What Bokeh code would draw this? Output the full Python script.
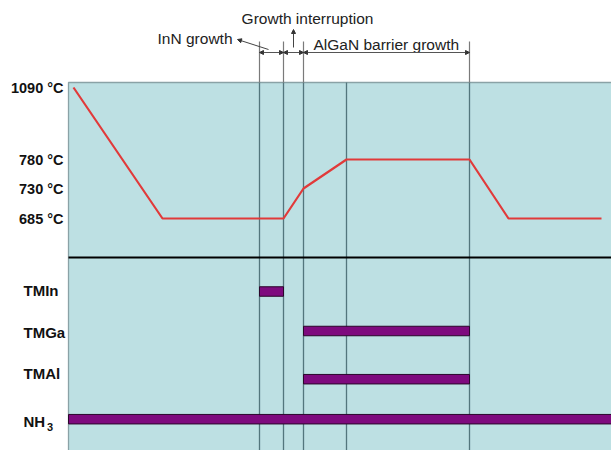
import re
import numpy as np
from bokeh.plotting import figure
from bokeh.models import Range1d, Arrow, NormalHead
from bokeh.core.properties import value
from bokeh.embed import file_html
from bokeh.resources import INLINE

# Growth sequence on a schematic time axis (arbitrary units)
profile_time = [0.5, 9.4, 19.1, 21.5, 23.5, 27.8, 40.1, 44.0, 53.3]
profile_temp = [1090, 685, 685, 685, 730, 780, 780, 685, 685]

# Temperature set points shown on the left
temp_levels = [685, 730, 780, 1090]
temp_labels = ["685 °C", "730 °C", "780 °C", "1090 °C"]

# Switching times of the precursor valves
gases = ["TMIn", "TMGa", "TMAl", "NH3"]
gas_on = [19.1, 23.5, 23.5, 0.0]
gas_off = [21.5, 40.1, 40.1, 54.3]

# Growth phases annotated above the panel
phase_names = ["InN growth", "Growth interruption", "AlGaN barrier growth"]
phase_start = [19.1, 21.5, 23.5]
phase_end = [21.5, 23.5, 40.1]

# Vertical markers through the panel
step_times = [19.1, 21.5, 23.5, 27.8, 40.1]

# ---- layout (schematic heights, not data) ----
T_END = 54.3
LABEL_MARGIN = 6.8
PANEL_TOP = 368
SEPARATOR = 193
level_height = [232, 262, 291, 363]          # schematic height of each set point
gas_row = [159, 119.5, 71.3, 31.3]           # row of each precursor bar
gas_label_shift = [1.0, -1.5, 5.5, -2.0]
DIM_Y = 398
TICK_TOP = 409

BG = "#bde0e3"
GRID = "#53767d"
RED = "#e13a3a"
PURPLE = "#7e0a7e"
FONT = value("Liberation Sans")
LABEL_SIZE = "15px"

p = figure(width=611, height=450, output_backend="svg", toolbar_location=None,
           x_range=Range1d(-LABEL_MARGIN, T_END), y_range=Range1d(0, 450),
           min_border=0, background_fill_color="white", border_fill_color="white")
p.axis.visible = False
p.grid.visible = False
p.outline_line_color = None

# panel background with its top/left edge
p.quad(left=0, right=T_END, bottom=0, top=PANEL_TOP, fill_color=BG, line_color=None)
p.line([0, 0, T_END], [0, PANEL_TOP, PANEL_TOP], line_color="#8aa2a6", line_width=1.3)

# vertical step markers
p.segment(x0=step_times, x1=step_times, y0=[0] * len(step_times),
          y1=[PANEL_TOP] * len(step_times), line_color=GRID, line_width=1.3)

# separator between temperature profile and gas flows
p.segment(x0=[0], x1=[T_END], y0=[SEPARATOR], y1=[SEPARATOR], line_color="black", line_width=2.2)

# temperature profile mapped onto the schematic axis
profile_y = np.interp(profile_temp, temp_levels, level_height)
p.line(profile_time, profile_y, line_color=RED, line_width=2.2)

# precursor bars
p.hbar(y=gas_row, left=gas_on, right=gas_off, height=9.5,
       fill_color=PURPLE, line_color="#2a062a", line_width=1)

# temperature labels
p.text(x=[-0.5] * len(temp_labels), y=level_height, text=temp_labels,
       text_align="right", text_baseline="middle", text_font=FONT,
       text_font_style="bold", text_font_size="14.5px", text_color="#111111")

# precursor labels; trailing digits of a formula are set as a subscript
bold = dict(text_font=FONT, text_font_style="bold", text_color="#111111", text_align="left")
for name, row, shift in zip(gases, gas_row, gas_label_shift):
    m = re.match(r"^(.*?)(\d+)$", name)
    base, sub = (m.group(1), m.group(2)) if m else (name, "")
    y = row + shift
    p.text(x=[-4.5], y=[y], text=[base], text_baseline="middle", text_font_size=LABEL_SIZE, **bold)
    if sub:
        p.text(x=[-4.5 + 0.95 * len(base) + 0.45], y=[y - 6], text=[sub], text_baseline="middle",
               text_font_size="11px", **bold)

# phase boundary ticks above the panel
bounds = sorted(set(phase_start + phase_end))
p.segment(x0=bounds, x1=bounds, y0=[PANEL_TOP] * len(bounds), y1=[TICK_TOP] * len(bounds),
          line_color="#7a7a7a", line_width=1.2)

# dimension arrows for each phase
for s, e in zip(phase_start, phase_end):
    p.add_layout(Arrow(x_start=s, y_start=DIM_Y, x_end=e, y_end=DIM_Y,
                       start=NormalHead(size=4, fill_color="#333333", line_color="#333333"),
                       end=NormalHead(size=4, fill_color="#333333", line_color="#333333"),
                       line_color="#555555", line_width=1))

# phase captions
ann = dict(text_font=FONT, text_font_size="15.5px", text_color="#222222", text_baseline="middle")
p.text(x=[phase_start[0] - 2.7], y=[412], text=[phase_names[0]], text_align="right", **ann)
p.text(x=[phase_start[1] + 2.4], y=[432], text=[phase_names[1]], text_align="center", **ann)
p.text(x=[phase_start[2] + 1.0], y=[406], text=[phase_names[2]], text_align="left", **ann)

# leader to the InN caption and pointer to the interruption caption
p.add_layout(Arrow(x_start=phase_start[0] + 0.9, y_start=401, x_end=phase_start[0] - 2.2, y_end=411,
                   start=None, end=NormalHead(size=4, fill_color="#333333", line_color="#333333"),
                   line_color="#444444", line_width=1))
p.add_layout(Arrow(x_start=phase_start[1] + 1.0, y_start=403, x_end=phase_start[1] + 1.0, y_end=421,
                   start=None, end=NormalHead(size=4, fill_color="#333333", line_color="#333333"),
                   line_color="#444444", line_width=1))

open("out.html", "w").write(file_html(p, INLINE))
